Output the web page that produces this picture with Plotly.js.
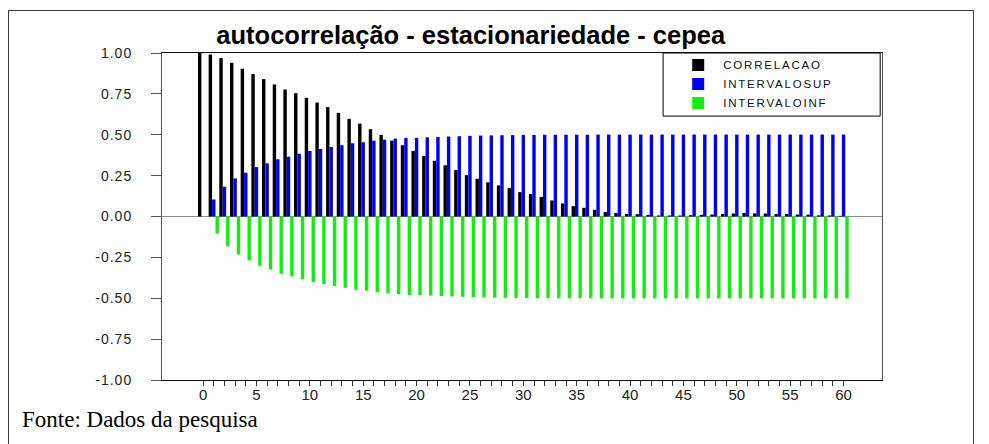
<!DOCTYPE html>
<html>
<head>
<meta charset="utf-8">
<script src="https://cdn.plot.ly/plotly-3.0.1.min.js"></script>
<style>
  html, body { margin: 0; padding: 0; background: #ffffff; }
  #wrap { position: relative; width: 989px; height: 444px; overflow: hidden; }
  #frame { position: absolute; left: 8px; top: 10px; width: 966px; height: 440px;
           border: 1px solid #3a3a3a; box-sizing: border-box; pointer-events: none; }
  #chart { position: absolute; left: 0; top: 0; width: 989px; height: 444px; }
  .ytick text { letter-spacing: 1px; }
  .legendtext { letter-spacing: 1.8px; }
</style>
</head>
<body>
<div id="wrap">
  <div id="chart"></div>
  <div id="frame"></div>
</div>
<script>
// Lags of the autocorrelation function
const lags = [0, 1, 2, 3, 4, 5, 6, 7, 8, 9,
  10, 11, 12, 13, 14, 15, 16, 17, 18, 19,
  20, 21, 22, 23, 24, 25, 26, 27, 28, 29,
  30, 31, 32, 33, 34, 35, 36, 37, 38, 39,
  40, 41, 42, 43, 44, 45, 46, 47, 48, 49,
  50, 51, 52, 53, 54, 55, 56, 57, 58, 59, 60];

// Sample autocorrelation per lag
const correlacao = [1.000, 0.991, 0.969, 0.940, 0.904, 0.871, 0.840, 0.808, 0.777, 0.754,
  0.726, 0.697, 0.669, 0.634, 0.597, 0.568, 0.534, 0.499, 0.464, 0.436,
  0.401, 0.370, 0.341, 0.313, 0.284, 0.253, 0.231, 0.209, 0.190, 0.174,
  0.149, 0.137, 0.120, 0.098, 0.080, 0.063, 0.053, 0.041, 0.027, 0.022,
  0.016, 0.014, 0.010, 0.006, 0.006, 0.006, 0.008, 0.010, 0.012, 0.015,
  0.018, 0.022, 0.019, 0.018, 0.015, 0.016, 0.012, 0.011, 0.007, 0.006,
  0.004];

// Upper confidence limit
const intervaloSup = [null, 0.104, 0.182, 0.233, 0.268, 0.302, 0.325, 0.350, 0.366, 0.384,
  0.401, 0.413, 0.425, 0.436, 0.448, 0.454, 0.464, 0.470, 0.476, 0.480,
  0.481, 0.484, 0.486, 0.489, 0.491, 0.493, 0.495, 0.496, 0.497, 0.498,
  0.499, 0.499, 0.500, 0.500, 0.500, 0.500, 0.500, 0.501, 0.501, 0.501,
  0.501, 0.501, 0.501, 0.501, 0.501, 0.501, 0.501, 0.501, 0.501, 0.501,
  0.501, 0.501, 0.501, 0.501, 0.501, 0.501, 0.501, 0.501, 0.501, 0.501,
  0.501];

// Lower confidence limit
const intervaloInf = [null, -0.104, -0.182, -0.233, -0.268, -0.302, -0.325, -0.350, -0.366, -0.384,
  -0.401, -0.413, -0.425, -0.436, -0.448, -0.454, -0.464, -0.470, -0.476, -0.480,
  -0.481, -0.484, -0.486, -0.489, -0.491, -0.493, -0.495, -0.496, -0.497, -0.498,
  -0.499, -0.499, -0.500, -0.500, -0.500, -0.500, -0.500, -0.501, -0.501, -0.501,
  -0.501, -0.501, -0.501, -0.501, -0.501, -0.501, -0.501, -0.501, -0.501, -0.501,
  -0.501, -0.501, -0.501, -0.501, -0.501, -0.501, -0.501, -0.501, -0.501, -0.501,
  -0.501];

// Axis labels
const xTickVals = [0, 5, 10, 15, 20, 25, 30, 35, 40, 45, 50, 55, 60];
const yTickVals = [1, 0.75, 0.5, 0.25, 0, -0.25, -0.5, -0.75, -1];
const yTickText = ['1.00', '0.75', '0.50', '0.25', '0.00', '-0.25', '-0.50', '-0.75', '-1.00'];

const seriesNames = ['CORRELACAO', 'INTERVALOSUP', 'INTERVALOINF'];
const chartTitle = 'autocorrelação - estacionariedade - cepea';
const sourceNote = 'Fonte: Dados da pesquisa';

const traces = [
  { type: 'bar', name: seriesNames[0], x: lags, y: correlacao,
    marker: { color: '#000000', line: { width: 0 } } },
  { type: 'bar', name: seriesNames[1], x: lags, y: intervaloSup,
    marker: { color: '#0000f0', line: { width: 0 } } },
  { type: 'bar', name: seriesNames[2], x: lags, y: intervaloInf,
    marker: { color: '#12ee12', line: { width: 0 } } }
];

const sans = 'Arial, "Liberation Sans", sans-serif';

const layout = {
  width: 989, height: 444,
  margin: { l: 162, r: 107, t: 53, b: 64, pad: 0 },
  paper_bgcolor: 'rgba(0,0,0,0)',
  plot_bgcolor: '#ffffff',
  barmode: 'group', bargap: 0.04, bargroupgap: 0,
  showlegend: true,
  title: {
    text: '<b>' + chartTitle + '</b>',
    font: { family: sans, size: 25.5, color: '#000000' },
    x: 0.476, xanchor: 'center', y: 0.92, yanchor: 'middle'
  },
  xaxis: {
    range: [-3.85, 63.6], showgrid: false, zeroline: false,
    showline: true, linecolor: '#111111', linewidth: 1, mirror: true,
    tickmode: 'array', tickvals: xTickVals,
    ticks: 'outside', ticklen: 5, tickcolor: '#333333', tickwidth: 1,
    ticklabelstandoff: -4,
    minor: { tickmode: 'array', tickvals: lags, ticks: 'outside', ticklen: 5,
             tickcolor: '#333333', tickwidth: 1, showgrid: false },
    tickfont: { family: '"Liberation Sans Narrow", "Arial Narrow", Arial, sans-serif', size: 15, color: '#222222' },
    fixedrange: true
  },
  yaxis: {
    range: [-1, 1], showgrid: false,
    zeroline: true, zerolinecolor: '#8a8a8a', zerolinewidth: 1.5,
    showline: true, linecolor: '#555555', linewidth: 1, mirror: true,
    tickmode: 'array', tickvals: yTickVals, ticktext: yTickText,
    ticks: 'outside', ticklen: 10, tickcolor: '#555555', tickwidth: 1,
    ticklabelstandoff: 16,
    tickfont: { family: sans, size: 14, color: '#222222' },
    fixedrange: true
  },
  legend: {
    x: 0.71, xanchor: 'left', y: 1.008, yanchor: 'top',
    bgcolor: 'rgba(0,0,0,0)', borderwidth: 0,
    font: { family: sans, size: 11.5, color: '#111111' },
    itemwidth: 40, tracegroupgap: 0, traceorder: 'normal'
  },
  shapes: [
    { type: 'rect', xref: 'paper', yref: 'paper', x0: 0.696, x1: 0.9975, y0: 0.807, y1: 1,
      line: { color: '#000000', width: 1 }, fillcolor: '#ffffff', layer: 'above' }
  ],
  annotations: [
    { text: sourceNote, xref: 'paper', yref: 'paper', x: -0.197, xanchor: 'left',
      y: -0.122, yanchor: 'middle', showarrow: false,
      font: { family: '"Liberation Serif", "Times New Roman", serif', size: 23, color: '#000000' } }
  ]
};

Plotly.newPlot('chart', traces, layout, { displayModeBar: false, staticPlot: true });
</script>
</body>
</html>
